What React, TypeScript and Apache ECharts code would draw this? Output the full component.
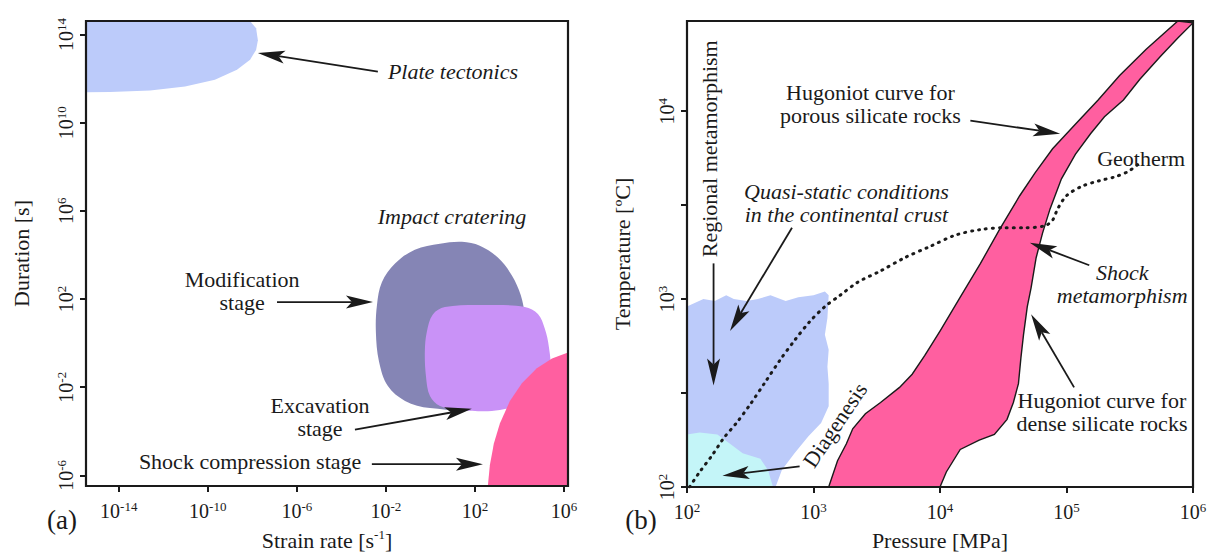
import React, { useEffect, useRef } from "react";
import * as echarts from "echarts";

// ---------- data (all values are log10 of the physical quantity) ----------
// Panel (a): x = log10(strain rate [1/s]), y = log10(duration [s])
const aXTicks = [-14, -10, -6, -2, 2, 6];
const aYTicks = [-6, -2, 2, 6, 10, 14];
const aXRange = [-15.47, 6.18];
const aYRange = [-6.48, 14.61];

const plateTectonics: number[][] = [
  [-15.47, 14.61], [-8.1, 14.61], [-7.83, 14.28], [-7.75, 13.74], [-7.83, 13.3],
  [-8.1, 12.85], [-8.69, 12.4], [-9.68, 11.95], [-11.02, 11.64], [-12.59, 11.46],
  [-14.39, 11.39], [-15.47, 11.38],
];
const modificationStage: number[][] = [
  [1.42, 4.6], [2.22, 4.42], [3.03, 3.88], [3.66, 3.07], [4.06, 2.17], [4.24, 1.28],
  [4.33, 0.29], [4.02, -1.5], [2.22, -2.94], [-0.02, -2.94], [-1.14, -2.62],
  [-1.91, -1.95], [-2.31, -0.83], [-2.45, 0.52], [-2.4, 1.73], [-2.18, 2.76],
  [-1.59, 3.61], [-0.7, 4.24], [0.43, 4.51],
];
const excavationStage: number[][] = [
  [0.65, 1.64], [2.67, 1.73], [4.24, 1.64], [4.83, 1.32], [5.14, 0.65], [5.32, -0.16],
  [5.37, -1.05], [4.92, -2.4], [3.12, -3.03], [1.33, -3.03], [0.43, -2.85],
  [-0.02, -2.4], [-0.2, -1.5], [-0.25, -0.38], [-0.16, 0.52], [0.11, 1.3],
];
const shockCompression: number[][] = [
  [2.58, -6.48], [2.67, -5.54], [2.85, -4.55], [3.12, -3.65], [3.57, -2.62],
  [4.11, -1.82], [4.78, -1.14], [5.46, -0.7], [6.18, -0.43], [6.18, -6.48],
];

// Panel (b): x = log10(pressure [MPa]), y = log10(temperature [°C])
const bXTicks = [2, 3, 4, 5, 6];
const bYTicks = [2, 2.5, 3, 3.5, 4];
const bYLabels = [2, 3, 4];
const bXRange = [2, 6];
const bYRange = [2, 4.48];

const regionalMetamorphism: number[][] = [
  [2.0, 2.96], [2.03, 2.97], [2.13, 3.0], [2.22, 2.99], [2.31, 3.02], [2.37, 3.0],
  [2.47, 2.99], [2.56, 3.0], [2.66, 3.02], [2.78, 2.99], [2.88, 3.01], [3.0, 3.02],
  [3.09, 3.04], [3.12, 3.02], [3.11, 2.9], [3.09, 2.81], [3.12, 2.73], [3.11, 2.64],
  [3.12, 2.55], [3.12, 2.43], [3.06, 2.34], [2.96, 2.27], [2.85, 2.18], [2.75, 2.09],
  [2.7, 2.0], [2.0, 2.0],
];
const diagenesis: number[][] = [
  [2.0, 2.28], [2.1, 2.29], [2.24, 2.28], [2.34, 2.23], [2.44, 2.18], [2.58, 2.15],
  [2.64, 2.09], [2.68, 2.0], [2.0, 2.0],
];
// Hugoniot curve for porous silicate rocks (bottom to top)
const hugoniotPorous: number[][] = [
  [3.12, 2.0], [3.19, 2.14], [3.26, 2.23], [3.31, 2.31], [3.41, 2.39], [3.53, 2.45],
  [3.68, 2.53], [3.78, 2.6], [3.88, 2.7], [4.0, 2.83], [4.16, 3.01], [4.32, 3.19],
  [4.47, 3.37], [4.63, 3.55], [4.75, 3.67], [4.89, 3.8], [5.07, 3.93], [5.25, 4.06],
  [5.42, 4.19], [5.63, 4.33], [5.88, 4.48],
];
// Hugoniot curve for dense silicate rocks (top to bottom)
const hugoniotDense: number[][] = [
  [6.0, 4.47], [5.88, 4.39], [5.74, 4.29], [5.58, 4.17], [5.45, 4.06], [5.3, 3.97],
  [5.19, 3.88], [5.07, 3.77], [4.96, 3.64], [4.87, 3.48], [4.81, 3.35], [4.76, 3.22],
  [4.72, 3.06], [4.69, 2.96], [4.66, 2.81], [4.64, 2.69], [4.62, 2.55], [4.58, 2.45],
  [4.53, 2.36], [4.43, 2.28], [4.31, 2.25], [4.16, 2.2], [4.05, 2.08], [4.0, 2.0],
];
const geotherm: number[][] = [
  [2.02, 2.0], [2.1, 2.08], [2.2, 2.17], [2.29, 2.26], [2.39, 2.34], [2.5, 2.44],
  [2.62, 2.56], [2.74, 2.68], [2.85, 2.78], [2.97, 2.88], [3.09, 2.96], [3.21, 3.02],
  [3.35, 3.09], [3.53, 3.15], [3.72, 3.22], [3.92, 3.28], [4.12, 3.34], [4.32, 3.37],
  [4.51, 3.38], [4.67, 3.38], [4.83, 3.39], [4.89, 3.42], [4.93, 3.48], [5.0, 3.55],
  [5.12, 3.6], [5.26, 3.63], [5.38, 3.65], [5.49, 3.68], [5.57, 3.72],
];

// ---------- annotations ----------
type Note = { g: number; at: number[]; text: string; italic?: boolean; align?: string; rot?: number };
const notes: Note[] = [
  { g: 0, at: [-1.91, 12.31], text: "Plate tectonics", italic: true, align: "left" },
  { g: 0, at: [0.97, 5.76], text: "Impact cratering", italic: true },
  { g: 0, at: [-8.46, 2.38], text: "Modification\nstage" },
  { g: 0, at: [-4.96, -3.34], text: "Excavation\nstage" },
  { g: 0, at: [-8.1, -5.36], text: "Shock compression stage" },
  { g: 1, at: [2.18, 3.8], text: "Regional metamorphism", rot: 90 },
  { g: 1, at: [3.26, 3.51], text: "Quasi-static conditions\nin the continental crust", italic: true },
  { g: 1, at: [3.45, 4.04], text: "Hugoniot curve for\nporous silicate rocks" },
  { g: 1, at: [5.59, 3.75], text: "Geotherm" },
  { g: 1, at: [5.44, 3.08], text: "Shock\nmetamorphism", italic: true },
  { g: 1, at: [5.28, 2.4], text: "Hugoniot curve for\ndense silicate rocks" },
  { g: 1, at: [3.17, 2.33], text: "Diagenesis", rot: 56 },
];
const arrows = [
  { g: 0, from: [-2.36, 12.31], to: [-7.75, 13.16] },
  { g: 0, from: [-6.89, 1.86], to: [-2.58, 1.86] },
  { g: 0, from: [-3.39, -3.92], to: [1.86, -2.98] },
  { g: 0, from: [-2.63, -5.49], to: [2.36, -5.49] },
  { g: 1, from: [2.21, 3.19], to: [2.21, 2.54] },
  { g: 1, from: [2.83, 3.38], to: [2.34, 2.83] },
  { g: 1, from: [4.24, 3.95], to: [4.95, 3.88] },
  { g: 1, from: [5.18, 3.18], to: [4.71, 3.3] },
  { g: 1, from: [5.06, 2.53], to: [4.72, 2.92] },
  { g: 1, from: [2.89, 2.11], to: [2.28, 2.06] },
];

// ---------- styling ----------
const FONT = "Liberation Serif";
const INK = "#1a1a1a";
const C_PLATE = "#bccbfa";
const C_MOD = "#8585b5";
const C_EXC = "#c992f7";
const C_PINK = "#ff5fa0";
const C_CYAN = "#c4f5f8";

const tickRich = {
  b: { fontSize: 20, fontFamily: FONT, color: INK, lineHeight: 22 },
  s: { fontSize: 13, fontFamily: FONT, color: INK, lineHeight: 10, verticalAlign: "top" },
};
const expLabel = (v: number) => `{b|10}{s|${v}}`;

function axisBase(ticks: number[], labels: number[], rotate = 0, margin = 14) {
  return {
    type: "value",
    splitLine: { show: false },
    axisLine: { show: false, onZero: false },
    axisTick: { show: true, customValues: ticks, length: 6, lineStyle: { color: INK, width: 2 } },
    axisLabel: {
      customValues: labels,
      formatter: (v: number) => expLabel(v),
      fontSize: 20,
      fontFamily: FONT,
      color: INK,
      rich: tickRich,
      rotate,
      margin,
      hideOverlap: false,
    },
  };
}

function polygonSeries(g: number, pts: number[][], fill: string, opts: any = {}) {
  return {
    type: "custom",
    xAxisIndex: g,
    yAxisIndex: g,
    clip: true,
    silent: true,
    data: pts,
    encode: { x: 0, y: 1 },
    renderItem: (params: any, api: any) => {
      if (params.dataIndex !== 0) return null;
      const points = pts.map((p) => api.coord(p));
      return {
        type: "polygon",
        shape: { points, smooth: opts.smooth || 0 },
        style: { fill, stroke: opts.stroke || null, lineWidth: opts.lineWidth || 0 },
      };
    },
  };
}

const nameStyle = { fontSize: 22, fontFamily: FONT, color: INK };

export default function App() {
  const ref = useRef<HTMLDivElement>(null);
  useEffect(() => {
    const el = ref.current!;
    const chart = echarts.init(el, null, { renderer: "svg" });
    const option: any = {
      animation: false,
      backgroundColor: "#ffffff",
      grid: [
        { left: 86, top: 21, width: 482, height: 470 },
        { left: 687, top: 21, width: 506, height: 470 },
      ],
      xAxis: [
        {
          ...axisBase(aXTicks, aXTicks, 0, 14),
          gridIndex: 0,
          min: aXRange[0],
          max: aXRange[1],
          name: "{n|Strain rate [s}{s|-1}{n|]}",
          nameLocation: "middle",
          nameGap: 42,
          nameTextStyle: {
            ...nameStyle,
            rich: {
              n: { fontSize: 22, fontFamily: FONT, color: INK, lineHeight: 24 },
              s: { fontSize: 13, fontFamily: FONT, color: INK, lineHeight: 12, verticalAlign: "top" },
            },
          },
        },
        {
          ...axisBase(bXTicks, bXTicks, 0, 14),
          gridIndex: 1,
          min: bXRange[0],
          max: bXRange[1],
          name: "Pressure [MPa]",
          nameLocation: "middle",
          nameGap: 42,
          nameTextStyle: nameStyle,
        },
      ],
      yAxis: [
        {
          ...axisBase(aYTicks, aYTicks, 90, 9),
          gridIndex: 0,
          min: aYRange[0],
          max: aYRange[1],
          name: "Duration [s]",
          nameLocation: "middle",
          nameGap: 54,
          nameTextStyle: nameStyle,
        },
        {
          ...axisBase(bYTicks, bYLabels, 90, 9),
          gridIndex: 1,
          min: bYRange[0],
          max: bYRange[1],
          name: "Temperature [ºC]",
          nameLocation: "middle",
          nameGap: 54,
          nameTextStyle: nameStyle,
        },
      ],
      series: [
        polygonSeries(0, plateTectonics, C_PLATE),
        polygonSeries(0, modificationStage, C_MOD, { smooth: 0.35 }),
        polygonSeries(0, excavationStage, C_EXC, { smooth: 0.35 }),
        polygonSeries(0, shockCompression, C_PINK),
        polygonSeries(1, regionalMetamorphism, C_PLATE),
        polygonSeries(1, diagenesis, C_CYAN),
        polygonSeries(1, [...hugoniotPorous, ...hugoniotDense], C_PINK, { stroke: INK, lineWidth: 1.4 }),
        {
          type: "line",
          xAxisIndex: 1,
          yAxisIndex: 1,
          data: geotherm,
          smooth: 0.3,
          symbol: "none",
          silent: true,
          z: 5,
          lineStyle: { color: INK, width: 3, type: [1, 6], cap: "round" },
        },
      ],
    };
    chart.setOption(option);

    const px = (g: number, p: number[]) => chart.convertToPixel({ gridIndex: g }, p) as number[];
    const graphics: any[] = [];
    const ranges = [
      [aXRange, aYRange],
      [bXRange, bYRange],
    ];
    ranges.forEach(([xr, yr], g) => {
      const p1 = px(g, [xr[0], yr[1]]);
      const p2 = px(g, [xr[1], yr[0]]);
      graphics.push({
        type: "rect",
        z: 100,
        silent: true,
        shape: { x: p1[0], y: p1[1], width: p2[0] - p1[0], height: p2[1] - p1[1] },
        style: { fill: "none", stroke: INK, lineWidth: 2.2 },
      });
    });

    notes.forEach((n) => {
      const p = px(n.g, n.at);
      graphics.push({
        type: "text",
        z: 50,
        silent: true,
        x: p[0],
        y: p[1],
        rotation: ((n.rot || 0) * Math.PI) / 180,
        style: {
          text: n.text,
          fontFamily: FONT,
          fontSize: 22,
          fontStyle: n.italic ? "italic" : "normal",
          lineHeight: 23,
          fill: INK,
          align: n.align || "center",
          verticalAlign: "middle",
        },
      });
    });

    arrows.forEach((a) => {
      const t = px(a.g, a.from);
      const h = px(a.g, a.to);
      const dx = h[0] - t[0];
      const dy = h[1] - t[1];
      const len = Math.hypot(dx, dy);
      const ux = dx / len;
      const uy = dy / len;
      const nx = -uy;
      const ny = ux;
      const L = 27;
      const W = 6.5;
      const N = 6;
      const base = [h[0] - ux * L, h[1] - uy * L];
      const notch = [h[0] - ux * (L - N), h[1] - uy * (L - N)];
      graphics.push({
        type: "line",
        z: 60,
        silent: true,
        shape: { x1: t[0], y1: t[1], x2: notch[0], y2: notch[1] },
        style: { stroke: INK, lineWidth: 1.8 },
      });
      graphics.push({
        type: "polygon",
        z: 60,
        silent: true,
        shape: {
          points: [
            [h[0], h[1]],
            [base[0] + nx * W, base[1] + ny * W],
            notch,
            [base[0] - nx * W, base[1] - ny * W],
          ],
        },
        style: { fill: INK },
      });
    });

    graphics.push({
      type: "text",
      z: 50,
      x: 62,
      y: 520,
      style: { text: "(a)", fontFamily: FONT, fontSize: 27, fill: INK, align: "center", verticalAlign: "middle" },
    });
    graphics.push({
      type: "text",
      z: 50,
      x: 641,
      y: 520,
      style: { text: "(b)", fontFamily: FONT, fontSize: 27, fill: INK, align: "center", verticalAlign: "middle" },
    });

    chart.setOption({ graphic: graphics });
    return () => chart.dispose();
  }, []);
  return (
    <div
      ref={ref}
      style={{ position: "fixed", left: 0, top: 0, width: 1213, height: 556, background: "#fff" }}
    />
  );
}
